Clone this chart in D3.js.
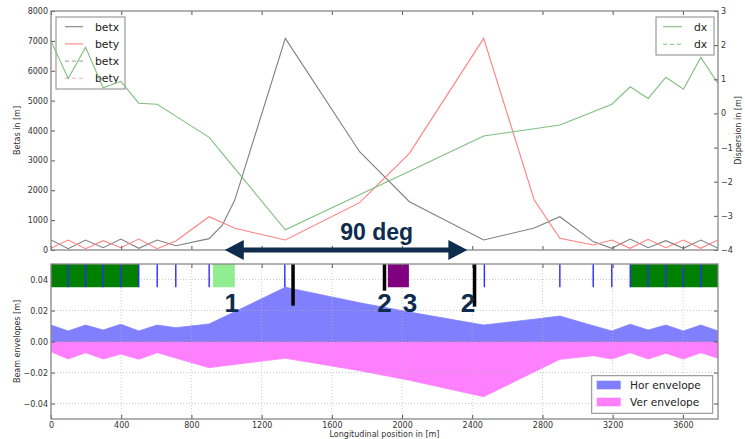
<!DOCTYPE html>
<html><head><meta charset="utf-8">
<script src="https://cdn.jsdelivr.net/npm/d3@7"></script>
<style>body{margin:0;background:#fff}svg{display:block}text{font-family:"DejaVu Sans",sans-serif}</style>
</head><body><svg id="c" width="745" height="439"></svg>
<script>
// ---- data ----
const s    = [0, 98, 197, 297, 398, 500, 605, 711, 901, 975, 1047, 1335, 1758, 2042, 2465, 2753, 2899, 3089, 3195, 3300, 3402, 3503, 3603, 3702, 3800];
const betx = [335, 45, 335, 77, 368, 55, 335, 145, 380, 820, 1670, 7085, 3290, 1617, 335, 735, 1115, 280, 55, 368, 77, 311, 55, 335, 55];
const bety = [55, 335, 45, 311, 77, 368, 45, 300, 1115, 917, 725, 335, 1585, 3235, 7085, 1673, 390, 167, 335, 55, 358, 77, 335, 55, 335];
const dx   = [2.12, 1.02, 1.94, 0.75, 0.94, 0.30, 0.27, -0.08, -0.70, -1.16, -1.61, -3.41, -2.38, -1.69, -0.66, -0.45, -0.34, 0.05, 0.27, 0.78, 0.44, 1.06, 0.71, 1.64, 0.88];
const horEnv = [0.0106, 0.0068, 0.0106, 0.0074, 0.0111, 0.0068, 0.0106, 0.0089, 0.0113, 0.0153, 0.0192, 0.035, 0.025, 0.019, 0.0106, 0.0144, 0.0164, 0.0102, 0.0068, 0.0111, 0.0074, 0.0106, 0.0068, 0.0106, 0.0068];
const verEnv = [-0.0066, -0.0113, -0.0072, -0.0113, -0.0081, -0.0115, -0.0072, -0.0107, -0.0169, -0.0158, -0.0148, -0.0108, -0.0188, -0.025, -0.0356, -0.0196, -0.0115, -0.0092, -0.0113, -0.0072, -0.0113, -0.0076, -0.0113, -0.0072, -0.0108];

const dipoles = [[0,98],[98,197],[197,297],[297,398],[398,500],[3300,3402],[3402,3503],[3503,3603],[3603,3702],[3702,3800]];
const quads = [98, 197, 297, 398, 500, 605, 711, 901, 1332, 2469, 2899, 3089, 3195, 3300, 3402, 3503, 3603, 3702];
const lightBlock = [923, 1047];
const purpleBlock = [1919, 2039];
const blackBarS = [1379, 1900, 2413];
const blackBarEnd = [0.0231, 0.0328, 0.0225];

const annoText = ["1", "2", "3", "2"];
const annoS = [1030, 1900, 2045, 2375];
const annoVal = 0.019;
const arrowS = [990, 2372];
const arrowLabel = "90 deg";
const arrowLabelS = 1855;

const xTicks = [0, 400, 800, 1200, 1600, 2000, 2400, 2800, 3200, 3600];
const betaTicks = [0, 1000, 2000, 3000, 4000, 5000, 6000, 7000, 8000];
const dispTicks = [-4, -3, -2, -1, 0, 1, 2, 3];
const envTicks = [-0.04, -0.02, 0.00, 0.02, 0.04];

// ---- layout ----
const L = 51, R = 718, T1 = 11, B1 = 250, T2 = 264, B2 = 419;
const svg = d3.select("#c");
const x = d3.scaleLinear().domain([0, 3800]).range([L, R]);
const yb = d3.scaleLinear().domain([0, 8000]).range([B1, T1]);
const yd = d3.scaleLinear().domain([-4, 3]).range([B1, T1]);
const ye = d3.scaleLinear().domain([-0.05, 0.05]).range([B2, T2]);
const minus = v => String(v).replace("-", "\u2212");

const navy = "#0d2c4e";
const cGray = "#808080", cRed = "#ff8080", cGreen = "#80bf80";

svg.append("defs").html(
  `<clipPath id="cp1"><rect x="${L}" y="${T1}" width="${R-L}" height="${B1-T1}"/></clipPath>` +
  `<clipPath id="cp2"><rect x="${L}" y="${T2}" width="${R-L}" height="${B2-T2}"/></clipPath>`);

function styleAxis(g) {
  g.select(".domain").remove();
  g.selectAll(".tick line").attr("stroke", "#555");
  g.selectAll(".tick text").attr("fill", "#333").style("font-size", "8px").style("font-family", "DejaVu Sans");
}

// ---- top panel ----
const pts = s.map((v, i) => i);
const lineB = arr => d3.line().x(i => x(s[i])).y(i => yb(arr[i]))(pts);
const topG = svg.append("g").attr("clip-path", "url(#cp1)");
topG.append("path").attr("d", lineB(betx)).attr("fill", "none").attr("stroke", cGray).attr("stroke-width", 1.1);
topG.append("path").attr("d", lineB(bety)).attr("fill", "none").attr("stroke", cRed).attr("stroke-width", 1.1);

// left legend (under the twin axis)
function legend(g, x0, y0, w, h) {
  g.append("rect").attr("x", x0).attr("y", y0).attr("width", w).attr("height", h)
    .attr("fill", "#fff").attr("stroke", "#888").attr("stroke-width", 1);
}
const lg1 = svg.append("g");
legend(lg1, 56, 17, 69, 72);
const leg1 = [["betx", cGray, null], ["bety", cRed, null], ["betx", "#b0b0b0", "4,3"], ["bety", "#ffb0b0", "4,3"]];
leg1.forEach((d, i) => {
  const yy = 26.7 + i * 17.2;
  lg1.append("line").attr("x1", 65).attr("x2", 83).attr("y1", yy).attr("y2", yy)
    .attr("stroke", d[1]).attr("stroke-width", 1.1).attr("stroke-dasharray", d[2]);
  lg1.append("text").attr("x", 95).attr("y", yy + 4).text(d[0]).style("font-size", "10.8px").attr("fill", "#222");
});

const lineD = d3.line().x(i => x(s[i])).y(i => yd(dx[i]));
svg.append("g").attr("clip-path", "url(#cp1)").append("path").attr("d", lineD(pts))
  .attr("fill", "none").attr("stroke", cGreen).attr("stroke-width", 1.1);

const lg2 = svg.append("g");
legend(lg2, 656, 17, 58, 38);
[["dx", null], ["dx", "4,3"]].forEach((d, i) => {
  const yy = 26.7 + i * 17.6;
  lg2.append("line").attr("x1", 663).attr("x2", 682).attr("y1", yy).attr("y2", yy)
    .attr("stroke", cGreen).attr("stroke-width", 1.1).attr("stroke-dasharray", d[1]);
  lg2.append("text").attr("x", 694).attr("y", yy + 4).text(d[0]).style("font-size", "10.8px").attr("fill", "#222");
});

// top axes
svg.append("g").attr("transform", `translate(${L},0)`)
  .call(d3.axisLeft(yb).tickValues(betaTicks).tickSize(-4).tickPadding(3).tickFormat(d3.format("d"))).call(styleAxis);
svg.append("g").attr("transform", `translate(${R},0)`)
  .call(d3.axisRight(yd).tickValues(dispTicks).tickSize(-4).tickPadding(3).tickFormat(minus)).call(styleAxis);
svg.append("g").attr("transform", `translate(0,${B1})`)
  .call(d3.axisBottom(x).tickValues(xTicks).tickSize(-4).tickFormat("")).call(styleAxis);
svg.append("g").attr("transform", `translate(0,${T1})`)
  .call(d3.axisTop(x).tickValues(xTicks).tickSize(-4).tickFormat("")).call(styleAxis);
svg.append("rect").attr("x", L).attr("y", T1).attr("width", R - L).attr("height", B1 - T1)
  .attr("fill", "none").attr("stroke", "#888").attr("stroke-width", 1.3);

svg.append("text").attr("transform", `translate(20,${(T1 + B1) / 2}) rotate(-90)`).attr("text-anchor", "middle")
  .text("Betas in [m]").style("font-size", "8px").attr("fill", "#333");
svg.append("text").attr("transform", `translate(741,${(T1 + B1) / 2}) rotate(-90)`).attr("text-anchor", "middle")
  .text("Dispersion in [m]").style("font-size", "8px").attr("fill", "#333");

// ---- bottom panel ----
const botG = svg.append("g").attr("clip-path", "url(#cp2)");
const areaH = d3.area().x(i => x(s[i])).y0(ye(0)).y1(i => ye(horEnv[i]));
const areaV = d3.area().x(i => x(s[i])).y0(ye(0)).y1(i => ye(verEnv[i]));
botG.append("path").attr("d", areaH(pts)).attr("fill", "#8080ff").attr("stroke", "#8080ff").attr("stroke-width", 0.8);
botG.append("path").attr("d", areaV(pts)).attr("fill", "#ff80ff").attr("stroke", "#ff80ff").attr("stroke-width", 0.8);
botG.append("line").attr("x1", L).attr("x2", R).attr("y1", ye(0)).attr("y2", ye(0)).attr("stroke", "#9a70e0").attr("stroke-width", 1);

// grid
const grid = svg.append("g").attr("stroke", "#b8b8b8").attr("stroke-width", 0.7).attr("stroke-dasharray", "1,2");
xTicks.forEach(t => grid.append("line").attr("x1", x(t)).attr("x2", x(t)).attr("y1", T2).attr("y2", B2));
envTicks.forEach(t => grid.append("line").attr("x1", L).attr("x2", R).attr("y1", ye(t)).attr("y2", ye(t)));

// elements
const elG = svg.append("g").attr("clip-path", "url(#cp2)");
dipoles.forEach(d => elG.append("rect").attr("x", x(d[0])).attr("width", x(d[1]) - x(d[0]))
  .attr("y", ye(0.05)).attr("height", ye(0.035) - ye(0.05)).attr("fill", "#008000"));
elG.append("rect").attr("x", x(lightBlock[0])).attr("width", x(lightBlock[1]) - x(lightBlock[0]))
  .attr("y", ye(0.05)).attr("height", ye(0.035) - ye(0.05)).attr("fill", "#90ee90");
elG.append("rect").attr("x", x(purpleBlock[0])).attr("width", x(purpleBlock[1]) - x(purpleBlock[0]))
  .attr("y", ye(0.05)).attr("height", ye(0.035) - ye(0.05)).attr("fill", "#800080");
quads.forEach(q => elG.append("line").attr("x1", x(q)).attr("x2", x(q)).attr("y1", ye(0.05)).attr("y2", ye(0.035))
  .attr("stroke", "#2a2aff").attr("stroke-width", 1.4));
blackBarS.forEach((b, i) => elG.append("line").attr("x1", x(b)).attr("x2", x(b)).attr("y1", ye(0.05)).attr("y2", ye(blackBarEnd[i]))
  .attr("stroke", "#000").attr("stroke-width", 3.5));

// bottom axes
svg.append("g").attr("transform", `translate(${L},0)`)
  .call(d3.axisLeft(ye).tickValues(envTicks).tickSize(-4).tickPadding(3).tickFormat(d => minus(d3.format(".2f")(d)))).call(styleAxis);
svg.append("g").attr("transform", `translate(${R},0)`)
  .call(d3.axisRight(ye).tickValues(envTicks).tickSize(-4).tickFormat("")).call(styleAxis);
svg.append("g").attr("transform", `translate(0,${B2})`)
  .call(d3.axisBottom(x).tickValues(xTicks).tickSize(-4).tickPadding(3).tickFormat(d3.format("d"))).call(styleAxis);
svg.append("g").attr("transform", `translate(0,${T2})`)
  .call(d3.axisTop(x).tickValues(xTicks).tickSize(-4).tickFormat("")).call(styleAxis);
svg.append("rect").attr("x", L).attr("y", T2).attr("width", R - L).attr("height", B2 - T2)
  .attr("fill", "none").attr("stroke", "#888").attr("stroke-width", 1.3);

svg.append("text").attr("transform", `translate(20,${(T2 + B2) / 2}) rotate(-90)`).attr("text-anchor", "middle")
  .text("Beam envelopes [m]").style("font-size", "8px").attr("fill", "#333");
svg.append("text").attr("x", (L + R) / 2).attr("y", 437).attr("text-anchor", "middle")
  .text("Longitudinal position in [m]").style("font-size", "8px").attr("fill", "#333");

// bottom legend
const lg3 = svg.append("g");
legend(lg3, 591.7, 375.7, 121, 37.6);
[["Hor envelope", "#8080ff"], ["Ver envelope", "#ff80ff"]].forEach((d, i) => {
  const yy = 385 + i * 17;
  lg3.append("rect").attr("x", 596.7).attr("y", yy - 4.3).attr("width", 24).attr("height", 8.6).attr("fill", d[1]);
  lg3.append("text").attr("x", 630).attr("y", yy + 4).text(d[0]).style("font-size", "10.6px").attr("fill", "#222");
});

// ---- annotations ----
const ann = svg.append("g").attr("fill", navy).style("font-weight", "bold");
annoText.forEach((t, i) => ann.append("text").attr("x", x(annoS[i])).attr("y", ye(annoVal)).attr("text-anchor", "middle")
  .text(t).style("font-size", "26px").style("font-family", "Liberation Sans, Arial, sans-serif"));
ann.append("text").attr("x", x(arrowLabelS)).attr("y", 239.5).attr("text-anchor", "middle").text(arrowLabel)
  .style("font-size", "23px").style("font-family", "Liberation Sans, Arial, sans-serif");
{
  const x1 = x(arrowS[0]), x2 = x(arrowS[1]), yy = yb(0), hl = 19, hw = 10, sw = 2.6;
  const p = d3.path();
  p.moveTo(x1, yy); p.lineTo(x1 + hl, yy - hw); p.lineTo(x1 + hl, yy - sw); p.lineTo(x2 - hl, yy - sw);
  p.lineTo(x2 - hl, yy - hw); p.lineTo(x2, yy); p.lineTo(x2 - hl, yy + hw); p.lineTo(x2 - hl, yy + sw);
  p.lineTo(x1 + hl, yy + sw); p.lineTo(x1 + hl, yy + hw); p.closePath();
  ann.append("path").attr("d", p.toString()).attr("fill", navy);
}
</script></body></html>
